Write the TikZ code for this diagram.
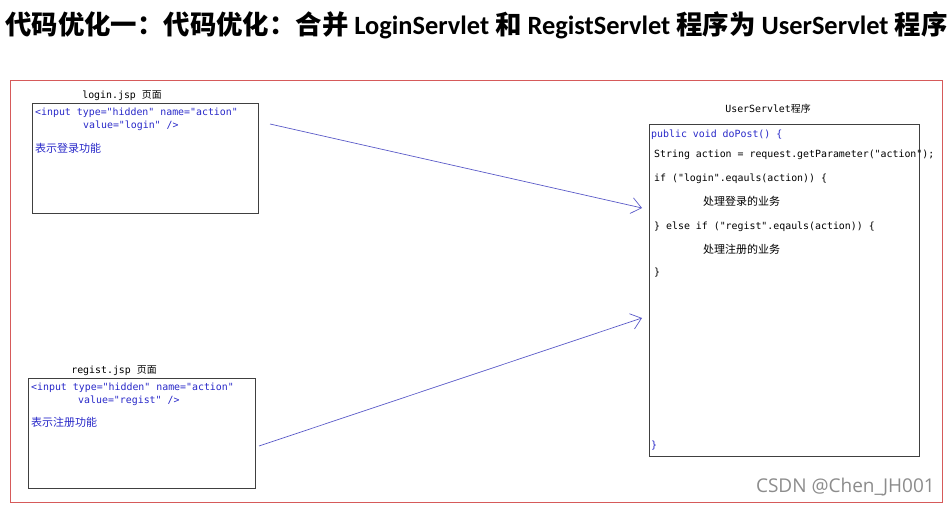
\documentclass[tikz,border=0pt]{standalone}
\usepackage{fontspec}
\setmainfont{DejaVu Sans Mono}[Ligatures=TeXOff]
\newfontfamily\cjk{Noto Sans CJK SC}
\newfontfamily\titlelatin{Carlito}
\newfontfamily\wmfont{Open Sans}
\usetikzlibrary{arrows.meta}
\definecolor{codeblue}{RGB}{40,40,200}
\definecolor{flowblue}{RGB}{90,90,200}
\definecolor{framered}{RGB}{214,90,90}

\begin{document}
\begin{tikzpicture}[x=1pt, y=-1pt, font=\fontsize{9.9pt}{12pt}\selectfont]
	\tikzset{
		page/.style={draw=black!75, line width=0.8pt, inner sep=0pt, anchor=north west},
		code/.style={inner sep=0pt, anchor=west, text height=7pt, text depth=2pt},
		bluecode/.style={code, text=codeblue},
		caption/.style={inner sep=0pt, text height=7pt, text depth=2pt},
		flow/.style={draw=flowblue, line width=0.7pt, -{Straight Barb[length=10pt,width=16pt]}}
	}
	\useasboundingbox (0,0) rectangle (949,506);
	% title
	\node[inner sep=0pt, anchor=west, font=\fontsize{26.4pt}{30pt}\selectfont\bfseries] (title) at (5,25)
		{\cjk 代码优化一：代码优化：合并 \titlelatin LoginServlet \cjk 和 \titlelatin RegistServlet \cjk 程序为 \titlelatin UserServlet \cjk 程序};
	% outer frame
	\node[draw=framered, line width=1pt, inner sep=0pt, anchor=north west, minimum width=932pt, minimum height=422pt] (frame) at (10,80) {};
	% login.jsp
	\node[caption] (logincap) at (122,96) {login.jsp {\cjk 页面}};
	\node[page, minimum width=226pt, minimum height=110pt] (login) at (32,103) {};
	\node[bluecode] (l1) at (35,113) {<input type="hidden" name="action"};
	\node[bluecode] (l2) at (83,126) {value="login" />};
	\node[bluecode, font=\cjk\fontsize{11pt}{12pt}\selectfont] (l3) at (35,150) {表示登录功能};
	% regist.jsp
	\node[caption] (registcap) at (114,371) {regist.jsp {\cjk 页面}};
	\node[page, minimum width=227pt, minimum height=110pt] (regist) at (28,378) {};
	\node[bluecode] (r1) at (31,388) {<input type="hidden" name="action"};
	\node[bluecode] (r2) at (78,401) {value="regist" />};
	\node[bluecode, font=\cjk\fontsize{11pt}{12pt}\selectfont] (r3) at (31,424) {表示注册功能};
	% UserServlet
	\node[caption] (usercap) at (768,110) {UserServlet{\cjk 程序}};
	\node[page, minimum width=270pt, minimum height=332pt] (user) at (649,124) {};
	\node[bluecode] (u1) at (651,135) {public void doPost() \{};
	\node[code] (u2) at (654,155) {String action = request.getParameter("action");};
	\node[code] (u3) at (654,179) {if ("login".eqauls(action)) \{};
	\node[code, font=\cjk\fontsize{11pt}{12pt}\selectfont] (u4) at (703,203) {处理登录的业务};
	\node[code] (u5) at (654,227) {\} else if ("regist".eqauls(action)) \{};
	\node[code, font=\cjk\fontsize{11pt}{12pt}\selectfont] (u6) at (703,251) {处理注册的业务};
	\node[code] (u7) at (654,273) {\}};
	\node[bluecode] (u8) at (651,446) {\}};
	% arrows
	\coordinate (loginout) at (270,124);
	\coordinate (registout) at (259,446);
	\coordinate (userin1) at (642,208);
	\coordinate (userin2) at (642,318);
	\draw[flow] (loginout) -- (userin1);
	\draw[flow] (registout) -- (userin2);
	% watermark
	\node[inner sep=0pt, anchor=east, text=black!45, font=\wmfont\fontsize{19pt}{22pt}\selectfont] (wm) at (935,487) {CSDN @Chen\_JH001};
\end{tikzpicture}
\end{document}
